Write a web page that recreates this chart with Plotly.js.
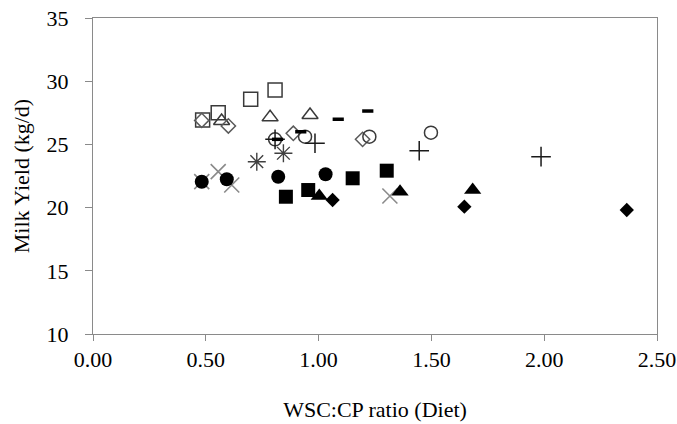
<!DOCTYPE html>
<html>
<head>
<meta charset="utf-8">
<script src="https://cdn.plot.ly/plotly-3.0.1.min.js"></script>
<style>html,body{margin:0;padding:0;background:#fff;}#chart{width:677px;height:424px;}</style>
</head>
<body>
<div id="chart"></div>
<script>
// Data (WSC:CP ratio vs Milk Yield)
const openSquareX = [0.486, 0.555, 0.699, 0.807];
const openSquareY = [26.93, 27.51, 28.57, 29.30];

const openTriangleX = [0.570, 0.785, 0.962];
const openTriangleY = [26.85, 27.14, 27.33];

const openDiamondX = [0.482, 0.600, 0.888, 1.195];
const openDiamondY = [26.90, 26.46, 25.88, 25.40];

const openCircleX = [0.807, 0.940, 1.225, 1.498];
const openCircleY = [25.40, 25.61, 25.61, 25.93];

const plusX = [0.807, 0.984, 1.446, 1.986];
const plusY = [25.40, 25.09, 24.50, 24.03];

const dashX = [0.818, 0.921, 1.087, 1.218];
const dashY = [25.40, 26.00, 26.99, 27.64];

const asteriskX = [0.726, 0.844];
const asteriskY = [23.63, 24.30];

const crossX = [0.482, 0.555, 0.615, 1.316];
const crossY = [22.05, 22.85, 21.79, 20.92];

const filledCircleX = [0.482, 0.593, 0.821, 1.031];
const filledCircleY = [22.05, 22.24, 22.44, 22.64];

const filledSquareX = [0.855, 0.954, 1.151, 1.302];
const filledSquareY = [20.86, 21.39, 22.32, 22.92];

const filledTriangleX = [1.003, 1.361, 1.683];
const filledTriangleY = [20.92, 21.26, 21.39];

const filledDiamondX = [1.062, 1.646, 2.366];
const filledDiamondY = [20.60, 20.07, 19.81];

const xTickVals = [0, 0.5, 1.0, 1.5, 2.0, 2.5];
const xTickText = ['0.00', '0.50', '1.00', '1.50', '2.00', '2.50'];
const yTickVals = [10, 15, 20, 25, 30, 35];

const openLine = {color: '#3a3a3a', width: 1.5};

function tr(x, y, symbol, size, color, line) {
  return {
    type: 'scatter', mode: 'markers', x: x, y: y, showlegend: false, hoverinfo: 'skip',
    marker: {symbol: symbol, size: size, color: color, line: line}
  };
}

const data = [
  tr(crossX, crossY, 'x-thin-open', 15, '#8a8a8a', {color: '#8a8a8a', width: 1.6}),
  tr(asteriskX, asteriskY, 'asterisk-open', 15, '#404040', {color: '#404040', width: 1.4}),
  tr(openSquareX, openSquareY, 'square-open', 14, '#3a3a3a', openLine),
  tr(openTriangleX, openTriangleY, 'triangle-up-open', 14, '#3a3a3a', openLine),
  tr(openDiamondX, openDiamondY, 'diamond-open', 11, '#5a5a5a', openLine),
  tr(openCircleX, openCircleY, 'circle-open', 13, '#3a3a3a', openLine),
  tr(plusX, plusY, 'cross-thin-open', 14, '#1a1a1a', {color: '#1a1a1a', width: 1.5}),
  tr(dashX, dashY, 'line-ew-open', 8, '#000', {color: '#000', width: 3.5}),
  tr(filledCircleX, filledCircleY, 'circle', 14, '#000', {width: 0}),
  tr(filledSquareX, filledSquareY, 'square', 14, '#000', {width: 0}),
  tr(filledTriangleX, filledTriangleY, 'triangle-up', 15, '#000', {width: 0}),
  tr(filledDiamondX, filledDiamondY, 'diamond', 11, '#000', {width: 0})
];

const font = {family: '"Liberation Serif", "Times New Roman", serif', size: 22, color: '#000'};

const layout = {
  width: 677, height: 424,
  margin: {l: 93, r: 20, t: 18, b: 90},
  paper_bgcolor: '#fff', plot_bgcolor: '#fff',
  font: font,
  xaxis: {
    range: [0, 2.5], tickvals: xTickVals, ticktext: xTickText,
    showgrid: false, zeroline: false, showline: true, mirror: true,
    linecolor: '#8a8a8a', linewidth: 1, ticks: 'outside', ticklen: 6, tickcolor: '#8a8a8a',
    tickfont: font, ticklabelstandoff: 0,
    title: {text: 'WSC:CP ratio (Diet)', font: font, standoff: 30}
  },
  yaxis: {
    range: [10, 35], tickvals: yTickVals,
    showgrid: false, zeroline: false, showline: true, mirror: true,
    linecolor: '#8a8a8a', linewidth: 1, ticks: 'outside', ticklen: 7, tickcolor: '#8a8a8a',
    tickfont: font, ticklabelstandoff: 12,
    title: {text: 'Milk Yield (kg/d)', font: font, standoff: 10}
  }
};

Plotly.newPlot('chart', data, layout, {displayModeBar: false, staticPlot: true});
</script>
</body>
</html>
